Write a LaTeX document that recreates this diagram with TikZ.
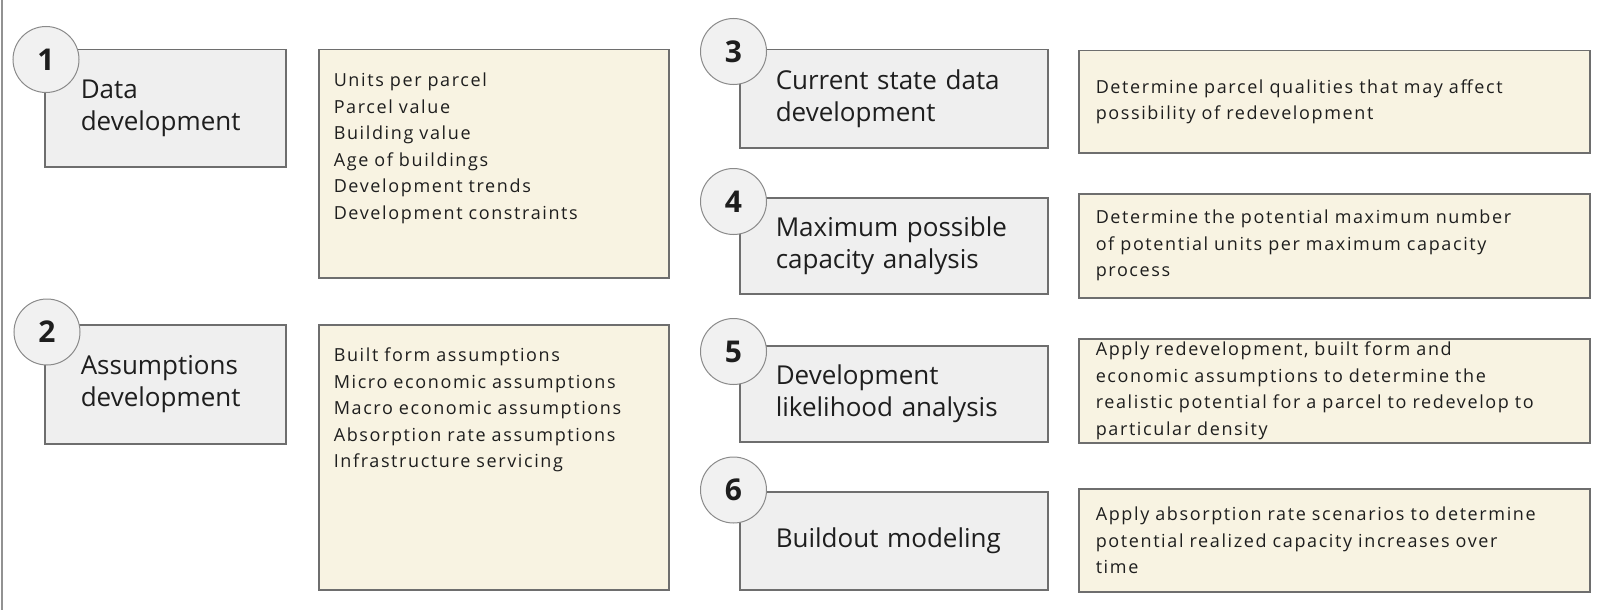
\documentclass[tikz,border=0pt]{standalone}
\usepackage{fontspec}
\setmainfont{Open Sans}
\newfontfamily\notefont{Open Sans}[LetterSpace=9,WordSpace=2.5]
\usepackage{xcolor}
\usepackage{tikz}
\definecolor{StepFill}{RGB}{239,239,239}
\definecolor{NoteFill}{RGB}{248,243,226}
\definecolor{Frame}{RGB}{110,110,110}
\definecolor{DiscFill}{RGB}{241,241,241}
\definecolor{Rim}{RGB}{138,138,138}
\definecolor{Ink}{RGB}{30,30,30}
\tikzset{
  stepbox/.style={draw=Frame,line width=1.5pt,fill=StepFill,anchor=north west,
    align=left,inner xsep=36pt,inner ysep=0pt,text=Ink,
    font=\fontsize{26}{31.5}\selectfont},
  notebox/.style={draw=Frame,line width=1.5pt,fill=NoteFill,anchor=north west,
    align=left,inner xsep=17pt,inner ysep=0pt,text=Ink,
    font=\notefont\fontsize{18}{26.5}\selectfont},
  topnote/.style={notebox,inner xsep=15pt,inner ysep=23pt,text height=14pt},
  numdisc/.style={circle,draw=Rim,line width=1pt,fill=DiscFill,minimum size=66pt,
    inner sep=0pt,text=Ink,font=\bfseries\fontsize{30}{30}\selectfont}
}
\newcommand{\StepNum}[3]{% name, centre, number
\node[numdisc] (#1) at (#2) {#3};
}

\begin{document}
\begin{tikzpicture}[x=1pt,y=-1pt]
\useasboundingbox (0,0) rectangle (1600,610);
\draw[Frame!75,line width=2pt] (1.5,0) -- (1.5,610);
% left column
\node[stepbox,minimum width=241pt,minimum height=117pt,text width=169pt] (data) at (44,49)
  {Data\\development};
\node[topnote,minimum width=350pt,text width=320pt,text depth=168pt] (dataNotes) at (318,49)
  {Units per parcel\\Parcel value\\Building value\\Age of buildings\\Development trends\\Development constraints};
\node[stepbox,minimum width=241pt,minimum height=119pt,text width=169pt] (assume) at (44,324)
  {Assumptions\\development};
\node[topnote,minimum width=350pt,text width=320pt,text depth=205pt] (assumeNotes) at (318,324)
  {Built form assumptions\\Micro economic assumptions\\Macro economic assumptions\\Absorption rate assumptions\\Infrastructure servicing};
\StepNum{num1}{46,59.5}{1}
\StepNum{num2}{47,332}{2}
% right column
\node[stepbox,minimum width=308pt,minimum height=98pt,text width=236pt] (current) at (739,49)
  {Current state data\\development};
\node[stepbox,minimum width=308pt,minimum height=96pt,text width=236pt] (maxcap) at (739,197)
  {Maximum possible\\capacity analysis};
\node[stepbox,minimum width=308pt,minimum height=96pt,text width=236pt] (likely) at (739,345)
  {Development\\likelihood analysis};
\node[stepbox,minimum width=308pt,minimum height=98pt,text width=236pt] (buildout) at (739,491)
  {Buildout modeling};
\StepNum{num3}{733.5,51.5}{3}
\StepNum{num4}{733.5,201.5}{4}
\StepNum{num5}{733.5,351.5}{5}
\StepNum{num6}{733.5,490}{6}
% notes
\node[notebox,minimum width=511pt,minimum height=102pt,text width=477pt] (currentNotes) at (1078,50)
  {Determine parcel qualities that may affect\\possibility of redevelopment};
\node[notebox,minimum width=511pt,minimum height=104pt,text width=477pt] (maxcapNotes) at (1078,193)
  {Determine the potential maximum number\\of potential units per maximum capacity\\process};
\node[notebox,minimum width=511pt,minimum height=104pt,text width=477pt] (likelyNotes) at (1078,338)
  {Apply redevelopment, built form and\\economic assumptions to determine the\\realistic potential for a parcel to redevelop to\\particular density};
\node[notebox,minimum width=511pt,minimum height=103pt,text width=477pt] (buildoutNotes) at (1078,488)
  {Apply absorption rate scenarios to determine\\potential realized capacity increases over\\time};
\end{tikzpicture}
\end{document}
